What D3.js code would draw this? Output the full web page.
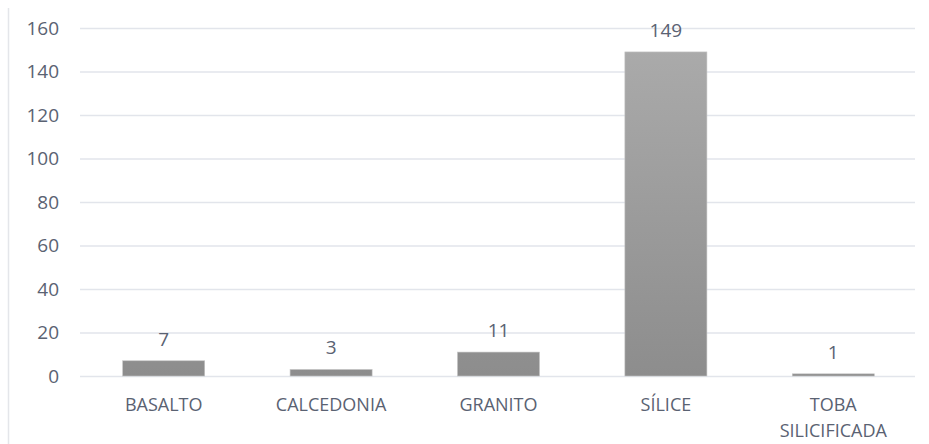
<!DOCTYPE html>
<html>
<head>
<meta charset="utf-8">
<script src="https://cdn.jsdelivr.net/npm/d3@7/dist/d3.min.js"></script>
<style>
  html, body { margin: 0; padding: 0; background: #fff; }
  svg { display: block; }
  text { font-family: "Open Sans", "Liberation Sans", sans-serif; fill: #5a6272; }
</style>
</head>
<body>
<svg id="chart" width="929" height="444"></svg>
<script>
// Rock types and counts of pieces
const categories = ["BASALTO", "CALCEDONIA", "GRANITO", "SÍLICE", "TOBA SILICIFICADA"];
const counts = [7, 3, 11, 149, 1];
const yTicks = [0, 20, 40, 60, 80, 100, 120, 140, 160];

const width = 929, height = 444;
const margin = { top: 28, right: 12, bottom: 68, left: 80 };

const svg = d3.select("#chart");

// gradient fill for the bars
const defs = svg.append("defs");
const grad = defs.append("linearGradient")
  .attr("id", "barGrad")
  .attr("gradientUnits", "userSpaceOnUse")
  .attr("x1", 0).attr("x2", 0)
  .attr("y1", margin.top).attr("y2", height - margin.bottom);
grad.append("stop").attr("offset", "0%").attr("stop-color", "#acacac");
grad.append("stop").attr("offset", "100%").attr("stop-color", "#8d8d8d");

// frame line on the left edge
svg.append("line")
  .attr("x1", 8.5).attr("x2", 8.5)
  .attr("y1", 8).attr("y2", height)
  .attr("stroke", "#e4e6ea").attr("stroke-width", 1.5);

const x = d3.scaleBand()
  .domain(categories)
  .range([margin.left, width - margin.right])
  .paddingInner(0.51)
  .paddingOuter(0.255);

const y = d3.scaleLinear()
  .domain([0, 160])
  .range([height - margin.bottom, margin.top]);

// horizontal gridlines
svg.append("g")
  .selectAll("line")
  .data(yTicks)
  .join("line")
  .attr("x1", margin.left)
  .attr("x2", width - margin.right - 2)
  .attr("y1", d => y(d) + 0.5)
  .attr("y2", d => y(d) + 0.5)
  .attr("stroke", "#e2e5eb")
  .attr("stroke-width", 1.5);

// y axis labels
const yAxis = d3.axisLeft(y).tickValues(yTicks).tickSize(0).tickPadding(21);
const yG = svg.append("g")
  .attr("transform", `translate(${margin.left},0)`)
  .call(yAxis);
yG.select(".domain").remove();
yG.selectAll("text")
  .attr("font-size", 19)
  .style("font-family", "'Open Sans', sans-serif")
  .attr("fill", "#5a6272");

// bars
svg.append("g")
  .selectAll("rect")
  .data(counts)
  .join("rect")
  .attr("x", (d, i) => x(categories[i]))
  .attr("width", x.bandwidth())
  .attr("y", d => y(d))
  .attr("height", d => y(0) - y(d))
  .attr("fill", "url(#barGrad)")
  .attr("stroke", "#c4c4c4")
  .attr("stroke-width", 0.6);

// value labels above bars
svg.append("g")
  .selectAll("text")
  .data(counts)
  .join("text")
  .attr("x", (d, i) => x(categories[i]) + x.bandwidth() / 2)
  .attr("y", d => y(d) - 15)
  .attr("text-anchor", "middle")
  .attr("font-size", 19)
  .text(d => d);

// category labels, wrapped on spaces for the long one
const xLab = svg.append("g")
  .selectAll("text")
  .data(categories)
  .join("text")
  .attr("x", d => x(d) + x.bandwidth() / 2)
  .attr("y", y(0) + 35)
  .attr("text-anchor", "middle")
  .attr("font-size", 18);

xLab.each(function (d) {
  const t = d3.select(this);
  const words = d.split(" ");
  words.forEach((w, i) => {
    t.append("tspan")
      .attr("x", t.attr("x"))
      .attr("dy", i === 0 ? 0 : 26)
      .text(w);
  });
});
</script>
</body>
</html>
